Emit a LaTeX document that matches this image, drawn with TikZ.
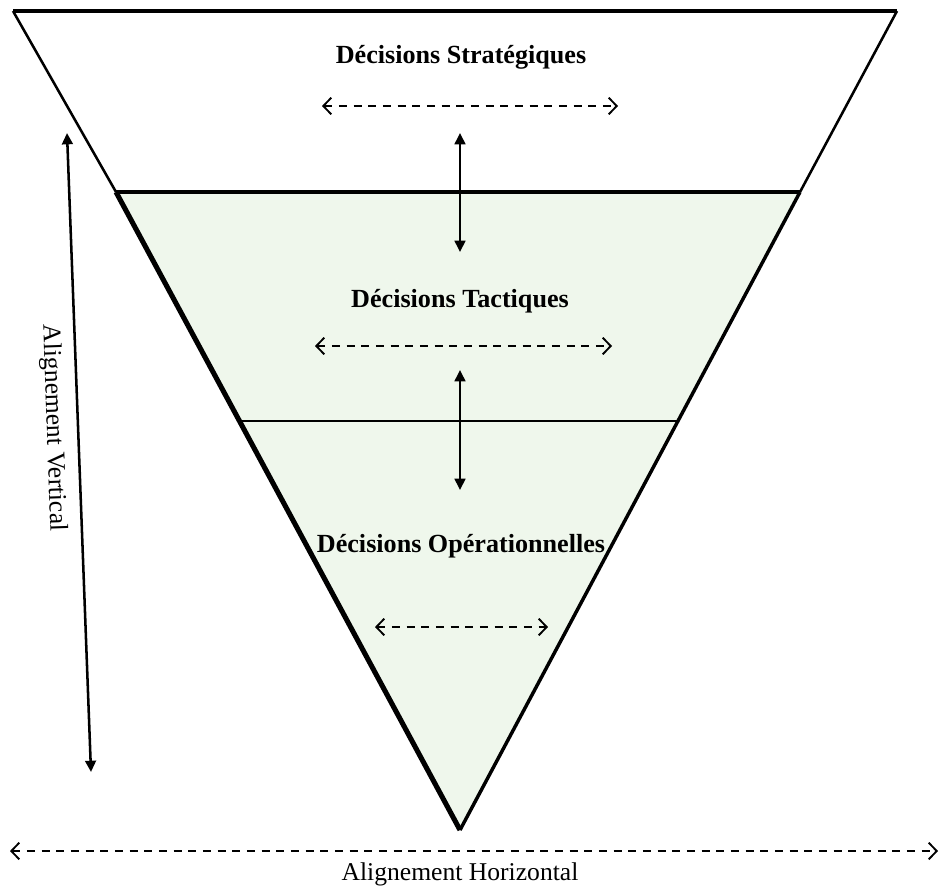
\documentclass[tikz,border=0pt]{standalone}
\usepackage{fontspec}
\setmainfont{Liberation Serif}
\usetikzlibrary{arrows.meta}
\definecolor{paleGreen}{RGB}{239,247,236}
\begin{document}
\begin{tikzpicture}[x=0.75pt,y=-0.75pt,
  dasharrow/.style={line width=1.15pt, dash pattern=on 6pt off 5pt,
    {Straight Barb[length=6pt,width=12.5pt,line width=1.4pt]}-{Straight Barb[length=6pt,width=12.5pt,line width=1.4pt]}},
  solidarrow/.style={line width=1.9pt,
    {Triangle[length=8.5pt,width=8pt]}-{Triangle[length=8.5pt,width=8pt]}},
  boldlbl/.style={font=\fontsize{19.6}{23}\selectfont\bfseries, anchor=base, inner sep=0pt},
  plainlbl/.style={font=\fontsize{19.2}{23}\selectfont, inner sep=0pt},
  edge/.style={line width=1.9pt},
]
\useasboundingbox (0,0) rectangle (944,886);
% corners
\coordinate (TL) at (13,11);
\coordinate (TR) at (897,11);
\coordinate (ML) at (116,192);
\coordinate (MR) at (800,192);
\coordinate (apex) at (460,830);
\coordinate (L2) at (241,421);
\coordinate (R2) at (678,421);
% fills
\fill[white] (TL) -- (TR) -- (MR) -- (ML) -- cycle;
\fill[paleGreen] (ML) -- (MR) -- (apex) -- cycle;
% outline
\draw[line width=3pt] (TL) -- (TR);
\draw[edge] (TL) -- (ML);
\draw[edge] (TR) -- (MR);
\draw[line width=3.2pt] (ML) -- (MR);
\draw[line width=3.8pt, line join=round] (ML) -- (apex);
\draw[line width=2.6pt] (MR) -- (apex);
\draw[line width=1.1pt] (L2) -- (R2);
% labels
\node[boldlbl] (strat) at (461,63) {Décisions Stratégiques};
\node[boldlbl] (tact) at (460,307) {Décisions Tactiques};
\node[boldlbl] (oper) at (461,552) {Décisions Opérationnelles};
\node[plainlbl, anchor=base] (horiz) at (460,880) {Alignement Horizontal};
\node[plainlbl, rotate=-88] (vert) at (53,428) {Alignement Vertical};
% dashed arrows
\coordinate (s1) at (322,106); \coordinate (s2) at (618,106);
\coordinate (t1) at (315,346); \coordinate (t2) at (612,346);
\coordinate (o1) at (375,627); \coordinate (o2) at (548,627);
\coordinate (h1) at (10,851);  \coordinate (h2) at (938,851);
\draw[dasharrow] (s1) -- (s2);
\draw[dasharrow] (t1) -- (t2);
\draw[dasharrow] (o1) -- (o2);
\draw[dasharrow] (h1) -- (h2);
% solid arrows
\coordinate (a1) at (460,133); \coordinate (a2) at (460,252);
\coordinate (b1) at (460,370); \coordinate (b2) at (460,490);
\coordinate (v1) at (67,133);  \coordinate (v2) at (91,772);
\draw[solidarrow] (a1) -- (a2);
\draw[solidarrow] (b1) -- (b2);
\draw[solidarrow] (v1) -- (v2);
\end{tikzpicture}
\end{document}
